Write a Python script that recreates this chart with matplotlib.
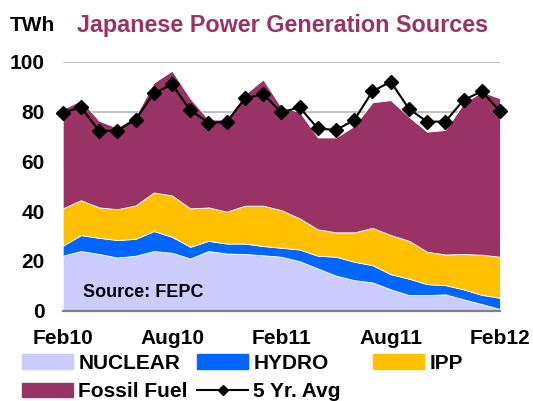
import matplotlib
matplotlib.use("Agg")
from matplotlib import pyplot as plt
from matplotlib.patches import Patch
from matplotlib.lines import Line2D
import numpy as np

# monthly data, Feb10 .. Feb12 (TWh)
months = ['Feb10', 'Mar10', 'Apr10', 'May10', 'Jun10', 'Jul10', 'Aug10', 'Sep10', 'Oct10',
          'Nov10', 'Dec10', 'Jan11', 'Feb11', 'Mar11', 'Apr11', 'May11', 'Jun11', 'Jul11',
          'Aug11', 'Sep11', 'Oct11', 'Nov11', 'Dec11', 'Jan12', 'Feb12']
nuclear = [22.1, 24.0, 22.8, 21.4, 22.1, 24.0, 23.3, 21.0, 24.0, 23.0, 22.8, 22.3, 21.7,
           19.9, 17.0, 14.1, 12.3, 11.4, 8.6, 6.3, 6.3, 6.6, 4.6, 2.7, 0.7]
hydro = [4.0, 6.4, 6.5, 7.0, 6.8, 8.0, 6.4, 4.7, 4.1, 4.0, 4.2, 3.7, 3.6,
         4.7, 5.1, 7.6, 7.4, 6.9, 6.1, 6.6, 4.4, 3.7, 4.0, 3.7, 4.5]
ipp = [15.0, 14.0, 12.2, 12.4, 13.4, 15.5, 16.6, 15.4, 13.4, 12.8, 15.2, 16.2, 15.1,
       12.5, 10.6, 9.8, 11.8, 15.0, 15.7, 15.2, 13.0, 12.3, 14.2, 16.1, 16.5]
fossil = [39.8, 40.2, 34.8, 32.7, 35.9, 44.1, 50.1, 44.2, 35.3, 37.0, 44.7, 50.7, 41.3,
          42.8, 36.9, 38.1, 42.7, 50.4, 54.2, 49.8, 48.2, 50.0, 60.5, 65.5, 63.6]
avg5 = [79.5, 81.7, 72.3, 72.3, 76.8, 87.3, 90.9, 80.6, 75.5, 75.8, 85.3, 87.0, 79.7,
        81.7, 73.2, 72.6, 76.6, 88.1, 92.0, 81.1, 75.9, 76.0, 84.6, 88.1, 80.1]
tick_labels = ['Feb10', 'Aug10', 'Feb11', 'Aug11', 'Feb12']

colors = ['#CCCCFF', '#0066FF', '#FFC000', '#993366']

plt.rcParams['font.family'] = ['Liberation Sans', 'DejaVu Sans']
plt.rcParams['font.weight'] = 'bold'

fig = plt.figure(figsize=(5.33, 4.01), dpi=100)
ax = fig.add_axes([0.1176, 0.225, 0.8205, 0.621])

x = np.arange(len(months))
ax.stackplot(x, nuclear, hydro, ipp, fossil, colors=colors,
             edgecolor='white', linewidth=0.6, zorder=2)
ax.plot(x, avg5, color='black', lw=1.5, marker='D', markersize=7, zorder=3, clip_on=False)

ax.set_xlim(0, len(months) - 1)
ax.set_ylim(0, 100)
ax.set_yticks([0, 20, 40, 60, 80, 100])
ax.set_xticks([months.index(m) for m in tick_labels])
ax.set_xticklabels(tick_labels)
ax.tick_params(axis='both', length=0, labelsize=15, pad=13)
for lab in ax.get_xticklabels() + ax.get_yticklabels():
    lab.set_fontweight('bold')

ax.yaxis.grid(True, color='#C0C0C0', lw=1.5, zorder=1)
ax.set_axisbelow(True)
for s in ['left', 'right', 'top']:
    ax.spines[s].set_visible(False)
ax.spines['bottom'].set_color('#808080')
ax.spines['bottom'].set_linewidth(1.6)
ax.spines['bottom'].set_zorder(4)

ax.text(0.047, 0.075, 'Source: FEPC', transform=ax.transAxes, fontsize=13,
        fontweight='bold', va='center', ha='left', zorder=5)

fig.text(10 / 533, 1 - 31 / 401, 'TWh', fontsize=15, fontweight='bold', va='baseline')
fig.text(77 / 533, 1 - 32 / 401, 'Japanese Power Generation Sources', fontsize=16.8,
         fontweight='bold', color='#993366', va='baseline')

h_nuc = Patch(color=colors[0], label='NUCLEAR')
h_hyd = Patch(color=colors[1], label='HYDRO')
h_ipp = Patch(color=colors[2], label='IPP')
h_fos = Patch(color=colors[3], label='Fossil Fuel')
h_avg = Line2D([], [], color='black', lw=1.5, marker='D', markersize=5, label='5 Yr. Avg')

leg_kw = dict(frameon=False, fontsize=15, handlelength=2.45, handleheight=0.7,
              handletextpad=0.25, labelspacing=0.45, borderpad=0, borderaxespad=0)
leg1 = fig.legend(handles=[h_nuc, h_fos, h_hyd, h_avg], ncol=2, columnspacing=0.45,
                  loc='upper left', bbox_to_anchor=(22 / 533, 1 - 354 / 401), **leg_kw)
leg2 = fig.legend(handles=[h_ipp], loc='upper left',
                  bbox_to_anchor=(373 / 533, 1 - 354 / 401), **leg_kw)

fig.savefig('out.png', dpi=100)
